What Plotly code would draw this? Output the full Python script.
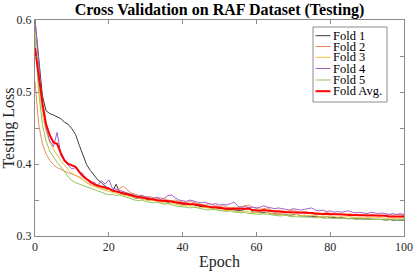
import plotly.graph_objects as go

epochs = list(range(0, 101))

fold1 = [
    0.600, 0.545, 0.495, 0.474, 0.470, 0.468, 0.466, 0.463, 0.458, 0.455,
    0.449, 0.441, 0.426, 0.411, 0.399, 0.391, 0.384, 0.378, 0.374, 0.369,
    0.366, 0.362, 0.372, 0.360, 0.358, 0.357, 0.356, 0.353, 0.352, 0.357,
    0.351, 0.350, 0.351, 0.349, 0.350, 0.348, 0.347, 0.348, 0.346, 0.345,
    0.344, 0.344, 0.343, 0.344, 0.342, 0.341, 0.340, 0.341, 0.339, 0.339,
    0.338, 0.338, 0.337, 0.337, 0.336, 0.336, 0.335, 0.338, 0.340, 0.333,
    0.333, 0.333, 0.332, 0.333, 0.331, 0.331, 0.330, 0.331, 0.330, 0.329,
    0.329, 0.330, 0.328, 0.328, 0.327, 0.328, 0.327, 0.327, 0.326, 0.327,
    0.326, 0.326, 0.325, 0.326, 0.325, 0.324, 0.325, 0.324, 0.324, 0.323,
    0.324, 0.323, 0.323, 0.324, 0.323, 0.322, 0.323, 0.322, 0.322, 0.322,
    0.322,
]

fold2 = [
    0.515, 0.455, 0.428, 0.414, 0.405, 0.399, 0.395, 0.392, 0.390, 0.388,
    0.386, 0.384, 0.382, 0.378, 0.374, 0.371, 0.370, 0.368, 0.366, 0.364,
    0.365, 0.362, 0.363, 0.366, 0.369, 0.364, 0.360, 0.358, 0.357, 0.355,
    0.354, 0.355, 0.353, 0.352, 0.353, 0.351, 0.350, 0.349, 0.350, 0.348,
    0.347, 0.346, 0.348, 0.346, 0.345, 0.344, 0.343, 0.345, 0.343, 0.342,
    0.341, 0.342, 0.340, 0.339, 0.340, 0.339, 0.341, 0.342, 0.343, 0.340,
    0.338, 0.337, 0.338, 0.339, 0.336, 0.335, 0.336, 0.335, 0.334, 0.335,
    0.336, 0.334, 0.333, 0.334, 0.333, 0.332, 0.333, 0.332, 0.331, 0.333,
    0.331, 0.330, 0.331, 0.330, 0.329, 0.331, 0.330, 0.329, 0.330, 0.329,
    0.328, 0.330, 0.329, 0.328, 0.329, 0.328, 0.330, 0.329, 0.330, 0.329,
    0.329,
]

fold3 = [
    0.585, 0.510, 0.470, 0.445, 0.430, 0.420, 0.412, 0.405, 0.398, 0.392,
    0.387, 0.384, 0.382, 0.378, 0.374, 0.371, 0.369, 0.367, 0.365, 0.364,
    0.362, 0.361, 0.359, 0.358, 0.357, 0.356, 0.355, 0.353, 0.352, 0.351,
    0.350, 0.349, 0.350, 0.348, 0.347, 0.346, 0.345, 0.346, 0.344, 0.343,
    0.342, 0.342, 0.341, 0.342, 0.340, 0.339, 0.340, 0.338, 0.337, 0.338,
    0.336, 0.336, 0.335, 0.336, 0.334, 0.334, 0.333, 0.335, 0.333, 0.332,
    0.333, 0.332, 0.331, 0.333, 0.331, 0.330, 0.331, 0.330, 0.329, 0.330,
    0.329, 0.330, 0.328, 0.329, 0.328, 0.329, 0.328, 0.327, 0.328, 0.327,
    0.328, 0.327, 0.326, 0.327, 0.326, 0.327, 0.326, 0.325, 0.326, 0.325,
    0.326, 0.325, 0.325, 0.326, 0.325, 0.324, 0.325, 0.324, 0.325, 0.324,
    0.325,
]

fold4 = [
    0.600, 0.535, 0.480, 0.450, 0.432, 0.424, 0.444, 0.412, 0.404, 0.398,
    0.393, 0.395, 0.389, 0.386, 0.380, 0.373, 0.375, 0.370, 0.377, 0.372,
    0.378, 0.366, 0.365, 0.363, 0.361, 0.360, 0.358, 0.357, 0.355, 0.356,
    0.354, 0.353, 0.352, 0.354, 0.351, 0.352, 0.356, 0.357, 0.353, 0.350,
    0.349, 0.348, 0.350, 0.348, 0.347, 0.346, 0.347, 0.345, 0.344, 0.345,
    0.343, 0.344, 0.343, 0.345, 0.347, 0.341, 0.340, 0.341, 0.339, 0.340,
    0.339, 0.340, 0.342, 0.340, 0.339, 0.338, 0.339, 0.338, 0.337, 0.336,
    0.338, 0.337, 0.336, 0.337, 0.338, 0.339, 0.336, 0.335, 0.336, 0.334,
    0.335, 0.333, 0.334, 0.333, 0.334, 0.335, 0.333, 0.332, 0.333, 0.332,
    0.331, 0.333, 0.332, 0.331, 0.332, 0.331, 0.330, 0.331, 0.330, 0.331,
    0.330,
]

fold5 = [
    0.575, 0.500, 0.455, 0.432, 0.418, 0.410, 0.402, 0.396, 0.390, 0.382,
    0.377, 0.374, 0.372, 0.370, 0.368, 0.366, 0.364, 0.363, 0.361, 0.358,
    0.357, 0.358, 0.356, 0.357, 0.355, 0.353, 0.352, 0.350, 0.349, 0.350,
    0.348, 0.347, 0.346, 0.347, 0.345, 0.344, 0.345, 0.343, 0.342, 0.341,
    0.341, 0.340, 0.339, 0.340, 0.339, 0.338, 0.337, 0.336, 0.337, 0.336,
    0.335, 0.335, 0.334, 0.335, 0.333, 0.333, 0.332, 0.333, 0.331, 0.331,
    0.330, 0.330, 0.331, 0.330, 0.329, 0.329, 0.328, 0.328, 0.329, 0.327,
    0.327, 0.327, 0.326, 0.327, 0.326, 0.326, 0.325, 0.326, 0.325, 0.325,
    0.325, 0.324, 0.325, 0.324, 0.324, 0.325, 0.324, 0.323, 0.324, 0.323,
    0.324, 0.323, 0.323, 0.324, 0.323, 0.322, 0.323, 0.323, 0.322, 0.323,
    0.323,
]

fold_avg = [
    0.561, 0.520, 0.485, 0.455, 0.440, 0.430, 0.428, 0.415, 0.405, 0.400,
    0.398, 0.396, 0.389, 0.383, 0.379, 0.375, 0.372, 0.370, 0.369, 0.367,
    0.366, 0.363, 0.362, 0.361, 0.360, 0.358, 0.357, 0.355, 0.354, 0.354,
    0.352, 0.352, 0.351, 0.350, 0.349, 0.349, 0.349, 0.348, 0.347, 0.346,
    0.345, 0.344, 0.344, 0.344, 0.343, 0.342, 0.341, 0.341, 0.340, 0.340,
    0.339, 0.339, 0.338, 0.338, 0.338, 0.337, 0.337, 0.337, 0.338, 0.336,
    0.335, 0.335, 0.336, 0.335, 0.334, 0.334, 0.334, 0.333, 0.333, 0.333,
    0.333, 0.332, 0.332, 0.332, 0.332, 0.332, 0.331, 0.331, 0.331, 0.331,
    0.331, 0.330, 0.330, 0.330, 0.330, 0.329, 0.329, 0.329, 0.329, 0.329,
    0.328, 0.328, 0.328, 0.328, 0.328, 0.328, 0.327, 0.327, 0.327, 0.327,
    0.327,
]

series_names = ["Fold 1", "Fold 2", "Fold 3", "Fold 4", "Fold 5", "Fold Avg."]
series_values = [fold1, fold2, fold3, fold4, fold5, fold_avg]
series_colors = ["#3a3a3a", "#ee8a55", "#f3c040", "#a461c8", "#93c55a", "#ff0000"]
series_widths = [1, 1, 1, 1, 1, 2]

y_tick_vals = [0.30, 0.35, 0.40, 0.45, 0.50, 0.55, 0.60]
y_tick_text = ["0.3", "", "0.4", "", "0.5", "", "0.6"]
x_tick_vals = [0, 20, 40, 60, 80, 100]

FONT = "Liberation Serif"

fig = go.Figure()
for name, vals, col, w in zip(series_names, series_values, series_colors, series_widths):
    fig.add_trace(go.Scatter(x=epochs, y=vals, mode="lines", name=name,
                             line=dict(color=col, width=w), showlegend=False))

axis_common = dict(showline=True, linecolor="#8c8c8c", linewidth=1, mirror="ticks",
                   ticks="inside", ticklen=4, tickcolor="#8c8c8c", showgrid=False,
                   zeroline=False, automargin=False,
                   tickfont=dict(family=FONT, size=12, color="#262626"))

fig.update_layout(
    width=415, height=271,
    margin=dict(l=35, r=11, t=20, b=35, autoexpand=False),
    plot_bgcolor="white", paper_bgcolor="white",
    title=dict(text="<b>Cross Validation on RAF Dataset (Testing)</b>",
               font=dict(family=FONT, size=16, color="black"),
               x=0.529, xanchor="center", y=0.965, yanchor="middle"),
    xaxis=dict(range=[0, 100], tickvals=x_tick_vals,
               title=dict(text="Epoch", font=dict(family=FONT, size=16, color="#262626"), standoff=2),
               **axis_common),
    yaxis=dict(range=[0.3, 0.6], tickvals=y_tick_vals, ticktext=y_tick_text,
               title=dict(text="Testing Loss", font=dict(family=FONT, size=16, color="#262626"), standoff=4),
               **axis_common),
)

# manual legend (box, sample lines, labels) in paper coordinates
pw, ph = 369.0, 216.0
def px_x(px):
    return (px - 35) / pw
def px_y(py):
    return (236 - py) / ph

fig.add_shape(type="rect", xref="paper", yref="paper",
              x0=px_x(313), x1=px_x(387), y0=px_y(102), y1=px_y(27),
              line=dict(color="#8c8c8c", width=1), fillcolor="white", layer="above")
entry_y = [35.7, 46.5, 57.3, 68.5, 80.0, 91.2]
for name, col, w, ey in zip(series_names, series_colors, series_widths, entry_y):
    fig.add_shape(type="line", xref="paper", yref="paper",
                  x0=px_x(315.5), x1=px_x(330.5), y0=px_y(ey), y1=px_y(ey),
                  line=dict(color=col, width=w), layer="above")
    fig.add_annotation(xref="paper", yref="paper", x=px_x(331), y=px_y(ey),
                       xanchor="left", yanchor="middle", text=name, showarrow=False,
                       font=dict(family=FONT, size=12.5, color="black"))

fig.write_html("out.html", config={"displayModeBar": False},
               post_script="document.body.style.margin='0';document.body.style.overflow='hidden';")
